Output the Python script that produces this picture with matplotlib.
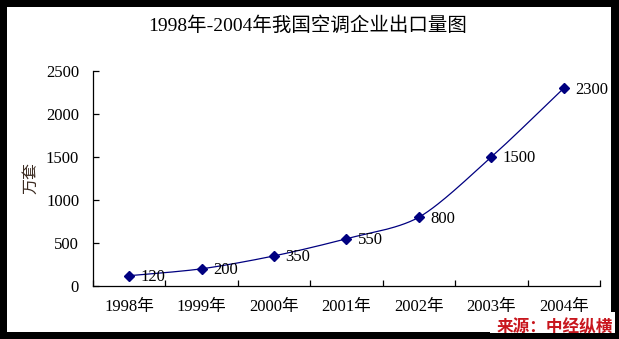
import numpy as np
import matplotlib
matplotlib.use("Agg")
import matplotlib.pyplot as plt
from matplotlib.patches import Rectangle

plt.rcParams['font.family'] = ['Liberation Serif', 'Noto Sans CJK SC', 'DejaVu Sans']

title = "1998年-2004年我国空调企业出口量图"
years = ["1998年", "1999年", "2000年", "2001年", "2002年", "2003年", "2004年"]
values = [120, 200, 350, 550, 800, 1500, 2300]
y_label = "万套"
source = "来源：中经纵横"
y_ticks = [0, 500, 1000, 1500, 2000, 2500]

W, H = 619, 339
fig = plt.figure(figsize=(W / 100, H / 100), dpi=100)
fig.patch.set_facecolor("white")

ax_l, ax_r, ax_t, ax_b = 93, 600, 71, 286
ax = fig.add_axes([ax_l / W, 1 - ax_b / H, (ax_r - ax_l) / W, (ax_b - ax_t) / H])

n = len(values)
xs = np.arange(1, n + 1, dtype=float)
ys = np.array(values, dtype=float)

# smoothed line (Bezier/Catmull-Rom through the points, computed in pixel space)
sx = (ax_r - ax_l) / n
sy = (ax_b - ax_t) / 2500.0
P = np.column_stack([xs * sx, ys * sy])
Pext = np.vstack([P[0], P, P[-1]])
curve = []
t = np.linspace(0, 1, 30)
for i in range(1, len(Pext) - 2):
    p0, p1, p2, p3 = Pext[i - 1], Pext[i], Pext[i + 1], Pext[i + 2]
    c1 = p1 + (p2 - p0) / 7.0
    c2 = p2 - (p3 - p1) / 7.0
    seg = ((1 - t) ** 3)[:, None] * p1 + (3 * (1 - t) ** 2 * t)[:, None] * c1 \
        + (3 * (1 - t) * t ** 2)[:, None] * c2 + (t ** 3)[:, None] * p2
    curve.append(seg)
curve = np.vstack(curve)
ax.plot(curve[:, 0] / sx, curve[:, 1] / sy, color="#000080", lw=0.9, zorder=3)
ax.plot(xs, ys, linestyle="none", marker="D", markersize=4.8,
        color="#000080", zorder=4)

for x, v in zip(xs, ys):
    ax.annotate(f"{int(v)}", (x, v), xytext=(8, -1), textcoords="offset points",
                ha="left", va="center", fontsize=12, color="black", zorder=5)

ax.set_xlim(0.5, n + 0.5)
ax.set_ylim(0, 2500)
ax.set_yticks(y_ticks)
ax.set_yticklabels([str(v) for v in y_ticks], fontsize=12)
ax.set_xticks(np.arange(0.5, n + 1.0, 1.0))
ax.set_xticklabels([])
ax.set_xticks(xs, minor=True)
ax.set_xticklabels(years, minor=True, fontsize=12)
ax.tick_params(axis="x", which="major", direction="in", length=4, width=0.9)
ax.tick_params(axis="x", which="minor", length=0, pad=9)
ax.tick_params(axis="y", direction="in", length=4, width=0.9, pad=10)
for s in ["top", "right"]:
    ax.spines[s].set_visible(False)
for s in ["left", "bottom"]:
    ax.spines[s].set_linewidth(0.9)

fig.text(308 / W, 1 - 26 / H, title, ha="center", va="center", fontsize=14)
fig.text(31 / W, 1 - 178 / H, y_label, ha="center", va="center",
         rotation=90, fontsize=11.5, color="#3a2a20")

# black frame
for (x0, y0, w, h) in [(0, 0, 7, H), (611, 0, 8, H), (0, 0, W, 7), (0, 332, W, 7)]:
    fig.patches.append(Rectangle((x0 / W, 1 - (y0 + h) / H), w / W, h / H,
                                 transform=fig.transFigure, facecolor="black",
                                 edgecolor="none", zorder=10))
fig.patches.append(Rectangle((490 / W, 1 - 333 / H), 125 / W, 21 / H,
                             transform=fig.transFigure, facecolor="white",
                             edgecolor="none", zorder=11))
fig.text(613 / W, 1 - 327 / H, source, ha="right", va="center", fontsize=12,
         fontweight="bold", color="#C8161D", zorder=12,
         family=['Noto Sans CJK SC'])

fig.savefig("out.png", dpi=100)
